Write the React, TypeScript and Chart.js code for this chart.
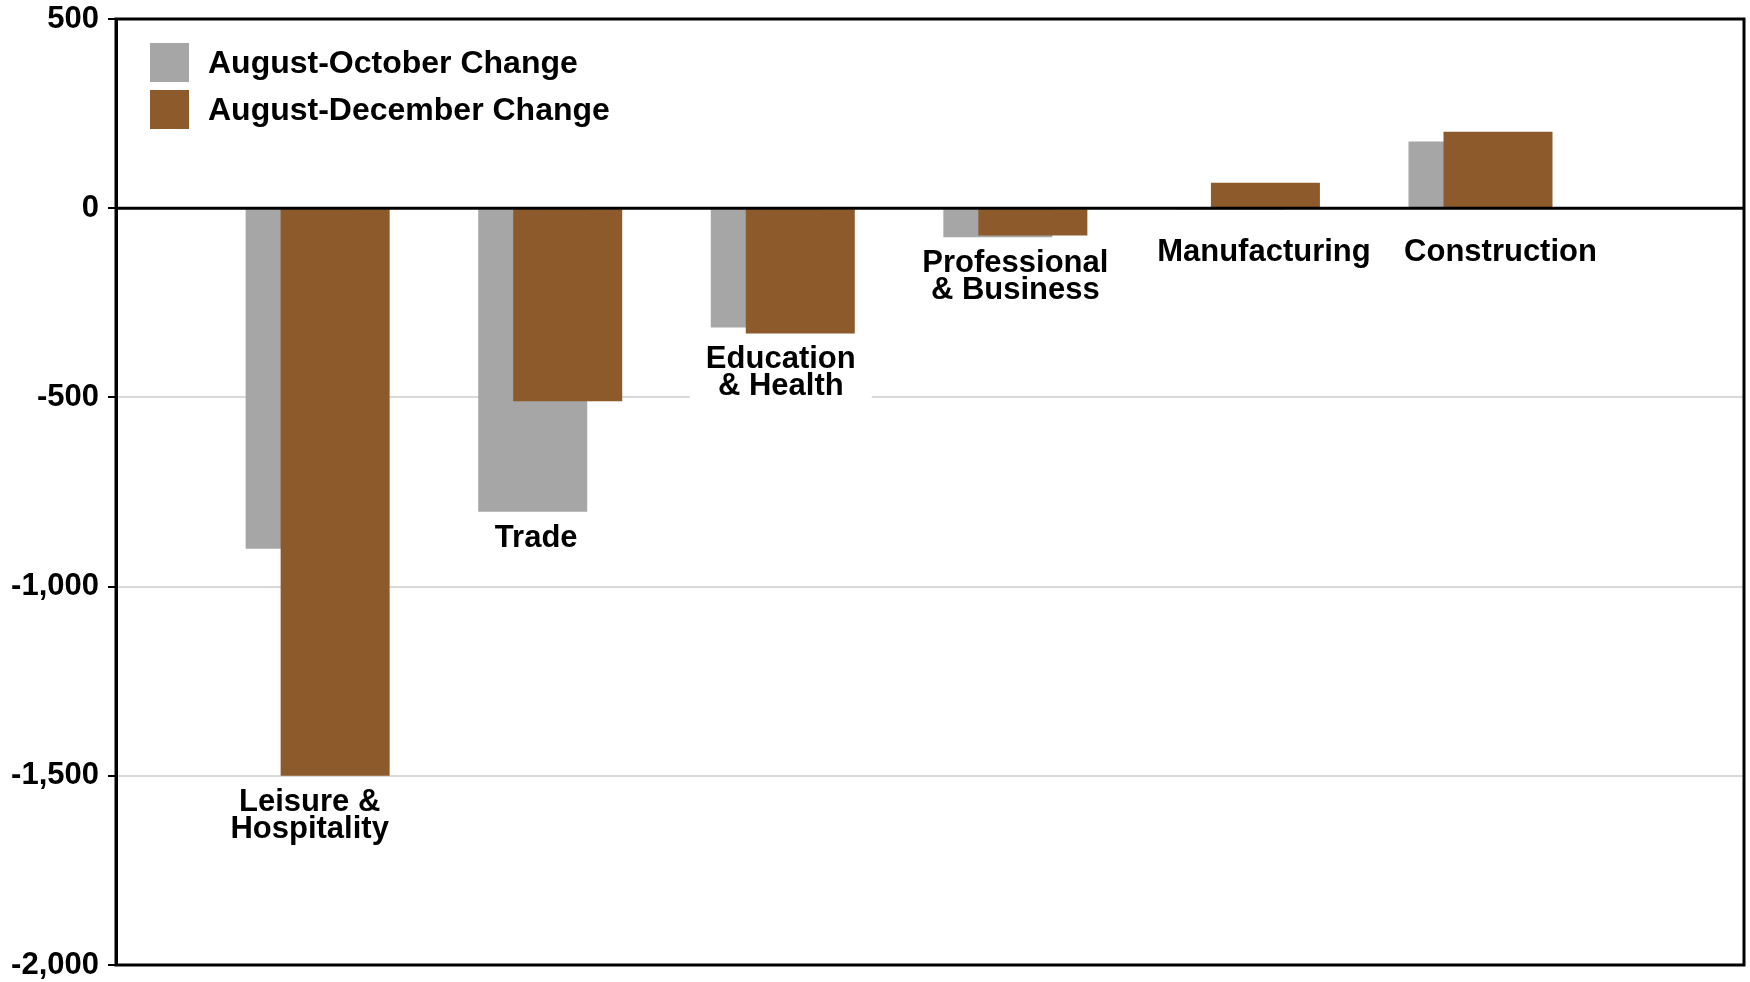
import React, { useEffect, useRef } from 'react';
import { Chart, registerables } from 'chart.js';

Chart.register(...registerables);

// ---- data ----
const categories = [
  'Leisure & Hospitality',
  'Trade',
  'Education & Health',
  'Professional & Business',
  'Manufacturing',
  'Construction',
];
const categoryLabelLines = [
  ['Leisure &', 'Hospitality'],
  ['Trade'],
  ['Education', '& Health'],
  ['Professional', '& Business'],
  ['Manufacturing'],
  ['Construction'],
];
const augustOctoberChange = [-900, -802, -315, -77, -4, 176];
const augustDecemberChange = [-1500, -510, -331, -72, 67, 202];
const seriesNames = ['August-October Change', 'August-December Change'];
const yTickValues = [-2000, -1500, -1000, -500, 0, 500];

// ---- styles ----
const GRAY = '#a6a6a6';
const BROWN = '#8c5a2b';
const FONT = '"Liberation Sans", Arial, Helvetica, sans-serif';
const LABEL_NUDGE = [-8, -14, -2, 0, 16, 20];

const grayBehindPlugin = {
  id: 'grayBehind',
  beforeDatasetsDraw(chart: any) {
    const meta = chart.getDatasetMeta(0);
    if (meta && meta.visible !== false) meta.controller.draw();
  },
  beforeDatasetDraw(chart: any, args: any) {
    if (args.index === 0) return false;
  },
};

const overlayPlugin = {
  id: 'overlay',
  afterDatasetsDraw(chart: any) {
    const { ctx, chartArea: a, scales } = chart;
    const x = scales.x;
    const y = scales.y;
    ctx.save();
    const y0 = y.getPixelForValue(0);
    ctx.strokeStyle = '#000';
    ctx.lineWidth = 3;
    ctx.beginPath();
    ctx.moveTo(a.left, y0);
    ctx.lineTo(a.right, y0);
    ctx.stroke();
    ctx.strokeRect(a.left, a.top, a.right - a.left, a.bottom - a.top);

    // category labels
    ctx.font = `bold 31px ${FONT}`;
    ctx.textAlign = 'center';
    ctx.textBaseline = 'alphabetic';
    categories.forEach((_, i) => {
      const lo = Math.min(0, augustOctoberChange[i], augustDecemberChange[i]);
      const capTop = Math.max(y.getPixelForValue(lo) + 13, y0 + 31);
      const cx = x.getPixelForValue(i) + LABEL_NUDGE[i];
      const lines = categoryLabelLines[i];
      const w = Math.max(...lines.map((l) => ctx.measureText(l).width));
      ctx.fillStyle = '#fff';
      ctx.fillRect(cx - w / 2 - 16, capTop - 6, w + 32, 27 * (lines.length - 1) + 22 + 12);
      ctx.fillStyle = '#000';
      lines.forEach((l, k) => ctx.fillText(l, cx, capTop + 22 + k * 27));
    });

    // legend
    const colors = [GRAY, BROWN];
    ctx.font = `bold 32px ${FONT}`;
    ctx.textAlign = 'left';
    ctx.textBaseline = 'middle';
    chart.data.datasets.forEach((ds: any, k: number) => {
      const bx = a.left + 34;
      const by = a.top + 24 + k * 47;
      ctx.fillStyle = colors[k];
      ctx.fillRect(bx, by, 39, 39);
      ctx.fillStyle = '#000';
      ctx.fillText(ds.label, bx + 58, by + 21);
    });
    ctx.restore();
  },
};

export default function App() {
  const ref = useRef<HTMLCanvasElement | null>(null);

  useEffect(() => {
    if (!ref.current) return;
    const chart = new Chart(ref.current, {
      type: 'bar',
      data: {
        datasets: [
          {
            label: seriesNames[0],
            data: categories.map((_, i) => ({ x: i, y: augustOctoberChange[i] })),
            backgroundColor: GRAY,
            borderWidth: 0,
            categoryPercentage: 0.301,
            barPercentage: 3.114,
          },
          {
            label: seriesNames[1],
            data: categories.map((_, i) => ({ x: i, y: augustDecemberChange[i] })),
            backgroundColor: BROWN,
            borderWidth: 0,
            categoryPercentage: 0.301,
            barPercentage: 3.114,
          },
        ],
      },
      options: {
        responsive: false,
        animation: false,
        layout: { padding: { top: 19, bottom: 17, right: 6, left: 0 } },
        plugins: {
          legend: { display: false },
          tooltip: { enabled: false },
        },
        scales: {
          x: {
            type: 'linear',
            display: false,
            offset: false,
            min: -0.867,
            max: 6.133,
            ticks: { stepSize: 1, includeBounds: false },
            grid: { display: false, offset: false },
          },
          y: {
            min: -2000,
            max: 500,
            afterFit(scale: any) {
              scale.width = 116;
              scale.paddingTop = 0;
              scale.paddingBottom = 0;
            },
            afterBuildTicks(scale: any) {
              scale.ticks = yTickValues.map((v) => ({ value: v }));
            },
            border: { display: true, color: '#000', width: 3 },
            grid: {
              color: (c: any) => (c.tick && c.tick.value === 0 ? '#000' : '#d9d9d9'),
              lineWidth: 2,
              drawTicks: true,
              tickLength: 8,
              tickColor: '#000',
              tickWidth: 2,
            },
            ticks: {
              color: '#000',
              padding: 9,
              font: { family: FONT, size: 31, weight: 'bold', lineHeight: 1 },
              callback: (v: any) => Number(v).toLocaleString('en-US'),
            },
          },
        },
      },
      plugins: [grayBehindPlugin, overlayPlugin],
    } as any);
    return () => chart.destroy();
  }, []);

  return (
    <div style={{ position: 'fixed', left: 0, top: 0, width: 1750, height: 982, background: '#fff' }}>
      <canvas ref={ref} width={1750} height={982} style={{ display: 'block' }} />
    </div>
  );
}
